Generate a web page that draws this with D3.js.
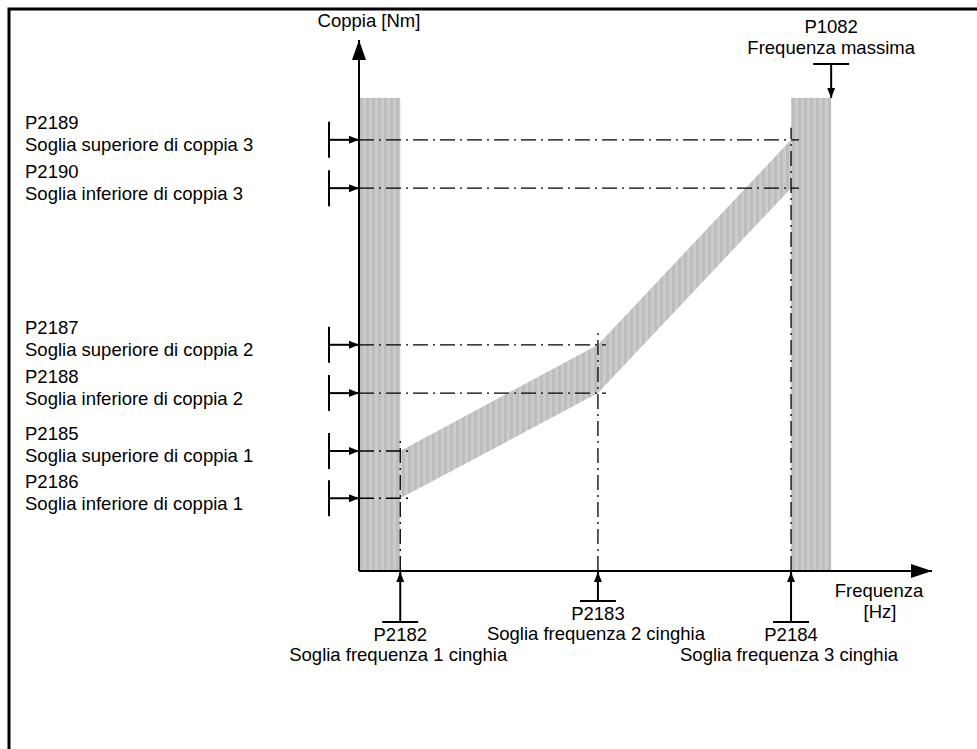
<!DOCTYPE html>
<html>
<head>
<meta charset="utf-8">
<script src="https://cdn.jsdelivr.net/npm/d3@7"></script>
<style>
  body { margin: 0; background: #fff; }
  text { font-family: Arial, "Liberation Sans", sans-serif; font-size: 18.5px; fill: #000; }
</style>
</head>
<body>
<script>
// Data (schematic units: frequency and torque as % of axis)
const torqueCodes = ["P2189", "P2190", "P2187", "P2188", "P2185", "P2186"];
const torqueNames = ["Soglia superiore di coppia 3", "Soglia inferiore di coppia 3",
                     "Soglia superiore di coppia 2", "Soglia inferiore di coppia 2",
                     "Soglia superiore di coppia 1", "Soglia inferiore di coppia 1"];
const torqueValues = [81.2, 72.1, 42.6, 33.5, 22.6, 13.7];

const freqCodes = ["P2182", "P2183", "P2184"];
const freqNames = ["Soglia frequenza 1 cinghia", "Soglia frequenza 2 cinghia", "Soglia frequenza 3 cinghia"];
const freqValues = [7.2, 41.7, 75.4];

const maxFreqCode = "P1082";
const maxFreqName = "Frequenza massima";
const maxFreqValue = 82.4;
const bandTop = 89.1;

const width = 977, height = 749;

let svg = d3.select("body").append("svg")
    .attr("width", width)
    .attr("height", height);

let xScale = d3.scaleLinear().domain([0, 100]).range([359, 932]);
let yScale = d3.scaleLinear().domain([0, 100]).range([571, 40]);

// stripe pattern for the bands
let defs = svg.append("defs");
let pat = defs.append("pattern")
    .attr("id", "stripes")
    .attr("patternUnits", "userSpaceOnUse")
    .attr("width", 6).attr("height", 10);
pat.append("rect").attr("width", 6).attr("height", 10).attr("fill", "#bdbdbd");
pat.append("rect").attr("x", 3).attr("width", 3).attr("height", 10).attr("fill", "#cbcbcb");

defs.append("marker")
    .attr("id", "head")
    .attr("viewBox", "0 0 10 10")
    .attr("refX", 10).attr("refY", 5)
    .attr("markerWidth", 10).attr("markerHeight", 10)
    .attr("markerUnits", "userSpaceOnUse")
    .attr("orient", "auto")
  .append("path")
    .attr("d", "M0,1 L10,5 L0,9 Z")
    .attr("fill", "#000");

// frame
svg.append("path")
    .attr("d", "M9,749 V9 H977")
    .attr("fill", "none").attr("stroke", "#000").attr("stroke-width", 3);

// bands
svg.append("rect")
    .attr("x", xScale(0)).attr("y", yScale(bandTop))
    .attr("width", xScale(freqValues[0]) - xScale(0))
    .attr("height", yScale(0) - yScale(bandTop))
    .attr("fill", "url(#stripes)");
svg.append("rect")
    .attr("x", xScale(freqValues[2])).attr("y", yScale(bandTop))
    .attr("width", xScale(maxFreqValue) - xScale(freqValues[2]))
    .attr("height", yScale(0) - yScale(bandTop))
    .attr("fill", "url(#stripes)");

// torque band between thresholds
let upper = freqValues.map((f, i) => [f, torqueValues[4 - 2 * i]]);
let lower = freqValues.map((f, i) => [f, torqueValues[5 - 2 * i]]);
let area = d3.area()
    .x(d => xScale(d[0]))
    .y0((d, i) => yScale(lower[i][1]))
    .y1(d => yScale(d[1]));
svg.append("path")
    .datum(upper)
    .attr("d", area)
    .attr("fill", "url(#stripes)");

// dash-dot guide lines
const dash = "15,5,2,5";
torqueValues.forEach((t, i) => {
    let f = freqValues[2 - Math.floor(i / 2)];
    svg.append("line")
        .attr("x1", xScale(0)).attr("x2", xScale(f) + 8)
        .attr("y1", yScale(t)).attr("y2", yScale(t))
        .attr("stroke", "#000").attr("stroke-width", 1.3)
        .attr("stroke-dasharray", dash);
});
freqValues.forEach((f, i) => {
    let t = torqueValues[4 - 2 * i];
    svg.append("line")
        .attr("x1", xScale(f)).attr("x2", xScale(f))
        .attr("y1", yScale(0)).attr("y2", yScale(t) - 12)
        .attr("stroke", "#000").attr("stroke-width", 1.3)
        .attr("stroke-dasharray", dash);
});

// axes
svg.append("line")
    .attr("x1", xScale(0)).attr("y1", yScale(0))
    .attr("x2", xScale(0)).attr("y2", yScale(100))
    .attr("stroke", "#000").attr("stroke-width", 2);
svg.append("path")
    .attr("d", `M${xScale(0)},${yScale(100)} l-7,20 h14 Z`)
    .attr("fill", "#000");
svg.append("line")
    .attr("x1", xScale(0)).attr("y1", yScale(0))
    .attr("x2", xScale(100)).attr("y2", yScale(0))
    .attr("stroke", "#000").attr("stroke-width", 2);
svg.append("path")
    .attr("d", `M${xScale(100)},${yScale(0)} l-21,-7 v14 Z`)
    .attr("fill", "#000");

svg.append("text")
    .attr("x", xScale(0) + 10).attr("y", 27)
    .attr("text-anchor", "middle")
    .text("Coppia [Nm]");
svg.append("text")
    .attr("x", 879).attr("y", 597)
    .attr("text-anchor", "middle")
    .text("Frequenza");
svg.append("text")
    .attr("x", 880).attr("y", 618)
    .attr("text-anchor", "middle")
    .text("[Hz]");

// left threshold markers
let left = svg.selectAll(".tmark")
    .data(torqueValues).enter()
    .append("g").attr("class", "tmark");
left.append("line")
    .attr("x1", 329).attr("x2", 329)
    .attr("y1", d => yScale(d) - 18).attr("y2", d => yScale(d) + 18)
    .attr("stroke", "#000").attr("stroke-width", 2);
left.append("line")
    .attr("x1", 329).attr("x2", xScale(0))
    .attr("y1", d => yScale(d)).attr("y2", d => yScale(d))
    .attr("stroke", "#000").attr("stroke-width", 2)
    .attr("marker-end", "url(#head)");
left.append("text")
    .attr("x", 25).attr("y", d => yScale(d) - 10.5)
    .text((d, i) => torqueCodes[i]);
left.append("text")
    .attr("x", 25).attr("y", d => yScale(d) + 11.5)
    .text((d, i) => torqueNames[i]);

// bottom frequency markers
const barY = [622, 601, 622];
let bottom = svg.selectAll(".fmark")
    .data(freqValues).enter()
    .append("g").attr("class", "fmark");
bottom.append("line")
    .attr("x1", d => xScale(d)).attr("x2", d => xScale(d))
    .attr("y1", (d, i) => barY[i]).attr("y2", yScale(0) + 1)
    .attr("stroke", "#000").attr("stroke-width", 2)
    .attr("marker-end", "url(#head)");
bottom.append("line")
    .attr("x1", d => xScale(d) - 18).attr("x2", d => xScale(d) + 18)
    .attr("y1", (d, i) => barY[i]).attr("y2", (d, i) => barY[i])
    .attr("stroke", "#000").attr("stroke-width", 2);
bottom.append("text")
    .attr("x", d => xScale(d)).attr("y", (d, i) => barY[i] + 19)
    .attr("text-anchor", "middle")
    .text((d, i) => freqCodes[i]);
bottom.append("text")
    .attr("x", d => xScale(d) - 2).attr("y", (d, i) => barY[i] + 39)
    .attr("text-anchor", "middle")
    .text((d, i) => freqNames[i]);

// max frequency marker
let mx = xScale(maxFreqValue);
svg.append("line")
    .attr("x1", mx - 18).attr("x2", mx + 18)
    .attr("y1", 64).attr("y2", 64)
    .attr("stroke", "#000").attr("stroke-width", 2);
svg.append("line")
    .attr("x1", mx).attr("x2", mx)
    .attr("y1", 64).attr("y2", yScale(bandTop))
    .attr("stroke", "#000").attr("stroke-width", 2)
    .attr("marker-end", "url(#head)");
svg.append("text")
    .attr("x", mx).attr("y", 33)
    .attr("text-anchor", "middle")
    .text(maxFreqCode);
svg.append("text")
    .attr("x", mx).attr("y", 54)
    .attr("text-anchor", "middle")
    .text(maxFreqName);
</script>
</body>
</html>
